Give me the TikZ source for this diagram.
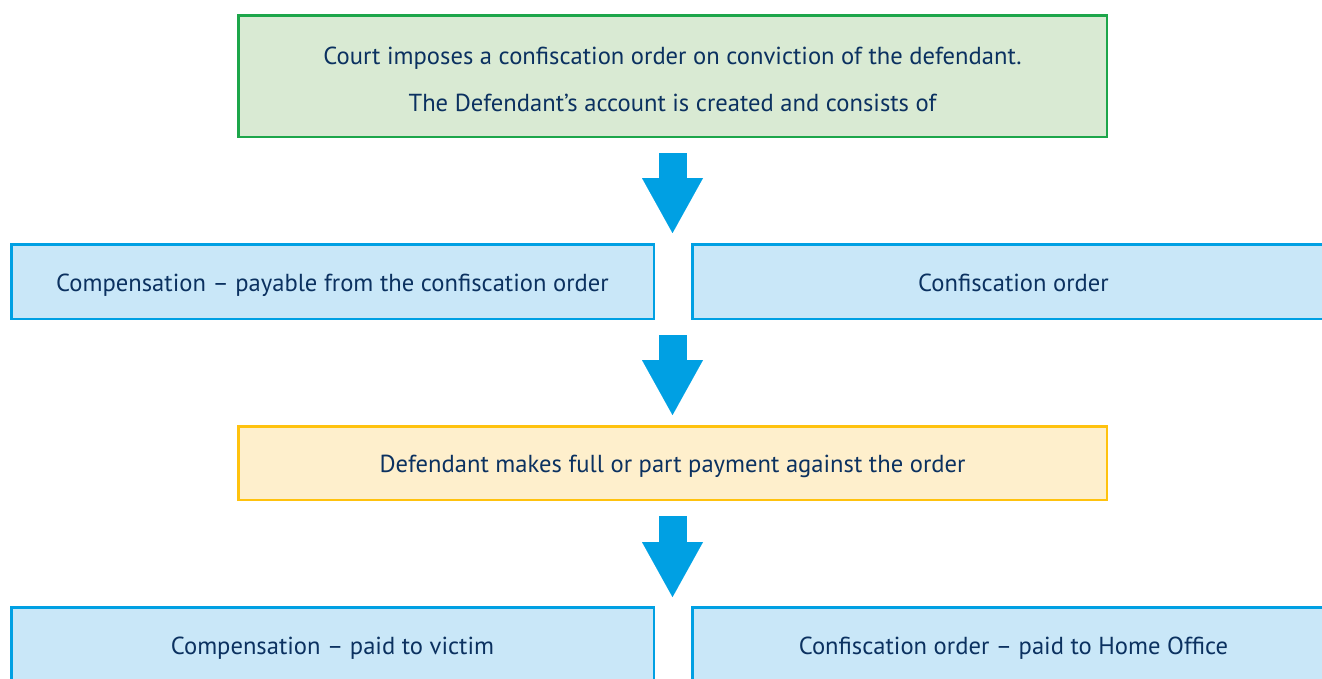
\documentclass[tikz,border=0pt]{standalone}
\usepackage{fontspec}
\setmainfont{PT Sans}
\usepackage{tikz}
\usetikzlibrary{arrows.meta, positioning}

\definecolor{navytext}{HTML}{0B3160}
\definecolor{greenline}{HTML}{1DA64A}
\definecolor{greenfill}{HTML}{D9EAD3}
\definecolor{blueline}{HTML}{00A0E3}
\definecolor{bluefill}{HTML}{C9E7F8}
\definecolor{yellowline}{HTML}{FFC20E}
\definecolor{yellowfill}{HTML}{FEEFCC}

\begin{document}
\begin{tikzpicture}[x=1pt,y=1pt,
    box/.style={draw,line width=2.5pt,inner sep=0pt,text=navytext,align=center,
        font=\fontsize{24.6}{47}\selectfont,text height=24pt,text depth=5pt},
    greenbox/.style={box,draw=greenline,fill=greenfill,minimum width=868.5pt,minimum height=121.5pt,
        text height=75pt},
    bluebox/.style={box,draw=blueline,fill=bluefill,minimum width=642.5pt,minimum height=74.5pt},
    yellowbox/.style={box,draw=yellowline,fill=yellowfill,minimum width=868.5pt,minimum height=73.5pt},
    downarrow/.style={blueline,line width=28pt,shorten <=15pt,
        -{Triangle[width=61pt,length=55pt,line width=0.01pt]}}]
\clip (0,0) rectangle (1322,-678);

% Order made by the court
\node[greenbox] (order) at (672.5,-76) {Court imposes a confiscation order on conviction of the defendant.\\The Defendant’s account is created and consists of};

% Parts of the account
\node[bluebox] (comp) at (332.5,-281.5) {Compensation -- payable from the confiscation order};
\node[bluebox] (conf) at (1013.5,-281.5) {Confiscation order};

% Payment
\node[yellowbox] (pay) at (672.5,-463) {Defendant makes full or part payment against the order};

% Where the money goes
\node[bluebox] (victim) at (332.5,-644.5) {Compensation -- paid to victim};
\node[bluebox] (home) at (1013.5,-644.5) {Confiscation order -- paid to Home Office};

% Arrows
\draw[downarrow,shorten >=10pt] (order.south) -- (order.south |- conf.north);
\draw[downarrow,shorten >=10pt] (order.south |- conf.south) -- (pay.north);
\draw[downarrow,shorten >=9pt] (pay.south) -- (pay.south |- home.north);
\end{tikzpicture}
\end{document}
